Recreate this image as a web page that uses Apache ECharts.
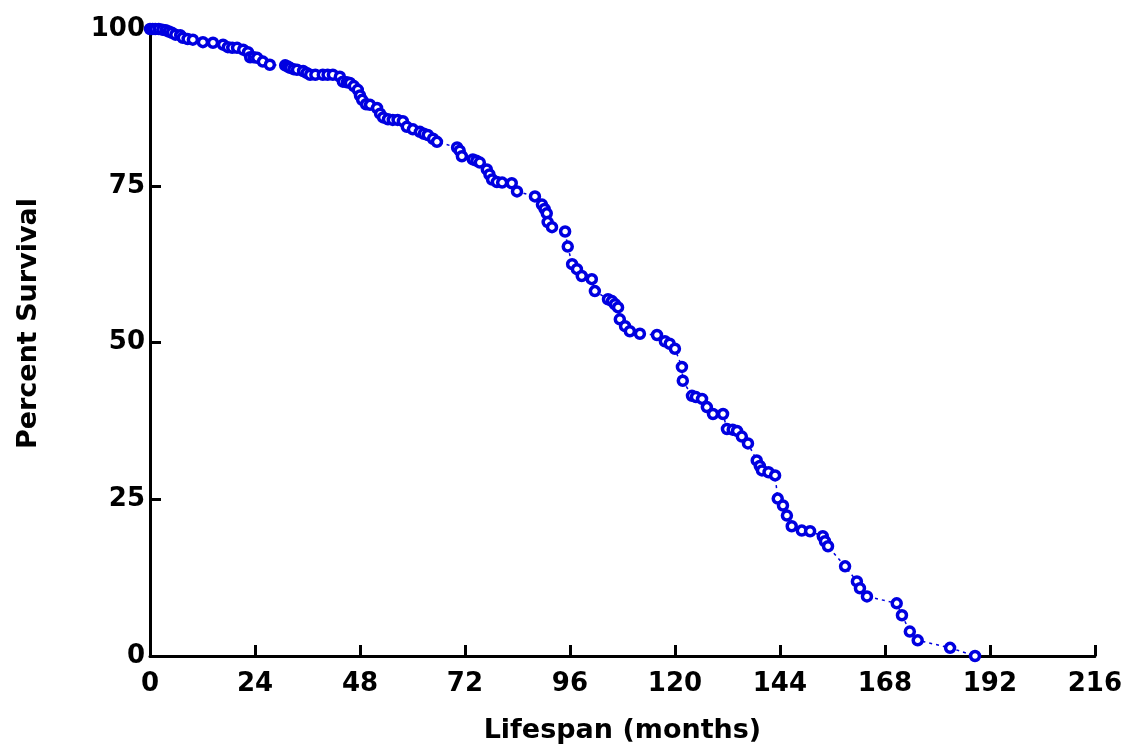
<!DOCTYPE html>
<html>
<head>
<meta charset="utf-8">
<script src="https://cdn.jsdelivr.net/npm/echarts@6/dist/echarts.min.js"></script>
<style>
  html, body { margin: 0; padding: 0; background: #fff; }
  #chart { width: 1125px; height: 749px; }
</style>
</head>
<body>
<div id="chart"></div>
<script>
// Survival curve: months of life vs. percent of the cohort still alive
const months = [
  0, 0.6, 1.2, 2.0, 2.8, 3.6, 4.3, 5.0, 5.8, 6.9, 7.5, 8.6, 9.8, 12.1, 14.4, 16.7,
  17.8, 18.8, 19.9, 21.3, 22.4, 22.9, 23.7, 24.5, 25.8, 27.4, 30.9, 31.5, 32.0,
  32.8, 33.6, 35.0, 35.8, 36.6, 37.8, 39.5, 40.6, 41.8, 43.4, 44.1, 45.0, 45.7,
  46.6, 47.5, 48.0, 48.5, 49.4, 50.3, 51.9, 52.6, 53.3, 54.4, 55.5, 56.6, 57.8,
  58.7, 60.1, 61.7, 62.6, 63.5, 64.7, 65.6, 70.2, 70.8, 71.3, 73.8, 74.6, 75.4,
  77.0, 77.6, 78.2, 79.3, 80.5, 82.7, 83.9, 88.0, 89.6, 90.2, 90.7, 90.9, 91.9,
  94.9, 95.5, 96.5, 97.6, 98.7, 101.0, 101.7, 104.7, 105.6, 106.3, 107.0, 107.4,
  108.6, 109.7, 112.0, 115.9, 117.7, 118.8, 120.0, 121.6, 121.8, 123.9, 124.8,
  126.2, 127.3, 128.7, 131.0, 131.9, 133.2, 134.2, 135.3, 136.7, 138.7, 139.4,
  139.9, 141.4, 142.9, 143.5, 144.7, 145.6, 146.7, 149.0, 150.9, 153.8, 154.3,
  155.0, 158.9, 161.6, 162.3, 163.9, 170.7, 171.9, 173.7, 175.5, 182.9, 188.6
];
const survival = [
  100, 100, 100, 100, 99.9, 99.8, 99.6, 99.4, 99.1, 99.0, 98.6, 98.4, 98.3, 97.9, 97.8, 97.5,
  97.1, 97.0, 97.0, 96.7, 96.3, 95.5, 95.5, 95.4, 94.8, 94.3, 94.2, 94.0, 93.8,
  93.6, 93.5, 93.3, 93.0, 92.7, 92.7, 92.7, 92.7, 92.7, 92.4, 91.6, 91.5, 91.4,
  90.9, 90.3, 89.4, 88.7, 88.0, 87.9, 87.4, 86.5, 85.9, 85.6, 85.5, 85.5, 85.3,
  84.4, 84.0, 83.6, 83.3, 83.1, 82.5, 82.0, 81.1, 80.6, 79.7, 79.2, 79.0, 78.7,
  77.6, 76.8, 76.0, 75.6, 75.5, 75.4, 74.1, 73.3, 72.0, 71.3, 70.6, 69.2, 68.4,
  67.7, 65.3, 62.5, 61.7, 60.6, 60.1, 58.2, 56.9, 56.6, 56.1, 55.6, 53.7,
  52.6, 51.8, 51.4, 51.2, 50.2, 49.8, 49.0, 46.1, 43.9, 41.5, 41.3,
  41.0, 39.7, 38.6, 38.6, 36.2, 36.1, 35.9, 35.0, 33.9, 31.2, 30.3,
  29.6, 29.3, 28.8, 25.1, 24.0, 22.4, 20.7, 20.0, 19.9, 19.1, 18.3,
  17.5, 14.3, 11.9, 10.8, 9.5, 8.4, 6.5, 3.9, 2.5, 1.3, 0
];
const xTicks = [0, 24, 48, 72, 96, 120, 144, 168, 192, 216];
const yTicks = [0, 25, 50, 75, 100];

const points = months.map((m, i) => [m, survival[i]]);
const BLUE = '#0000e0';
const FONT = '"DejaVu Sans", "Liberation Sans", sans-serif';

const chart = echarts.init(document.getElementById('chart'), null, { renderer: 'canvas' });
chart.setOption({
  animation: false,
  backgroundColor: '#ffffff',
  grid: { left: 150, right: 30, top: 29, bottom: 91, containLabel: false },
  xAxis: {
    type: 'value',
    min: xTicks[0],
    max: xTicks[xTicks.length - 1],
    interval: xTicks[1] - xTicks[0],
    name: 'Lifespan (months)',
    nameLocation: 'middle',
    nameGap: 61,
    nameTextStyle: { fontFamily: FONT, fontSize: 27, fontWeight: 'bold', color: '#000' },
    axisLine: { show: true, onZero: false, lineStyle: { color: '#000', width: 3 } },
    axisTick: { show: true, inside: true, length: 11, lineStyle: { color: '#000', width: 3 } },
    axisLabel: { fontFamily: FONT, fontSize: 26, fontWeight: 'bold', color: '#000', margin: 15 },
    splitLine: { show: false }
  },
  yAxis: {
    type: 'value',
    min: yTicks[0],
    max: yTicks[yTicks.length - 1],
    interval: yTicks[1] - yTicks[0],
    name: 'Percent Survival',
    nameLocation: 'middle',
    nameGap: 108,
    nameRotate: 90,
    nameTextStyle: {
      fontFamily: FONT, fontSize: 27, fontWeight: 'bold', color: '#000',
      padding: [0, 0, 0, 38]
    },
    axisLine: { show: true, onZero: false, lineStyle: { color: '#000', width: 3 } },
    axisTick: { show: true, inside: true, length: 11, lineStyle: { color: '#000', width: 3 } },
    axisLabel: { fontFamily: FONT, fontSize: 26, fontWeight: 'bold', color: '#000', margin: 5 },
    splitLine: { show: false }
  },
  series: [{
    type: 'line',
    data: points,
    symbol: 'circle',
    symbolSize: 9,
    showAllSymbol: true,
    clip: false,
    lineStyle: { color: BLUE, width: 1.5, type: [3, 4] },
    itemStyle: { color: '#ffffff', borderColor: BLUE, borderWidth: 3.5 },
    z: 3
  }]
});
</script>
</body>
</html>
